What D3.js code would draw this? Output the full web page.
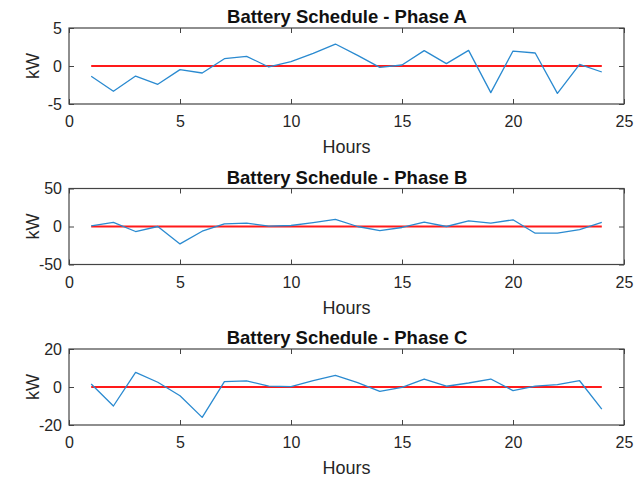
<!DOCTYPE html>
<html>
<head>
<meta charset="utf-8">
<script src="https://cdn.jsdelivr.net/npm/d3@7"></script>
<style>
  html, body { margin: 0; padding: 0; background: #fff; }
  svg { display: block; font-family: "Liberation Sans", Arial, sans-serif; }
</style>
</head>
<body>
<svg id="chart" width="644" height="477"></svg>
<script>
// Hourly battery schedule (kW) for each phase
const hours = d3.range(1, 25);
const phaseA = [-1.36, -3.33, -1.32, -2.41, -0.48, -0.92, 0.96, 1.27, -0.13, 0.57, 1.67, 2.89,
                1.40, -0.18, 0.13, 2.02, 0.31, 2.06, -3.5, 1.97, 1.71, -3.6, 0.22, -0.79];
const phaseB = [0.9, 5.3, -6.6, 0, -22.9, -6.2, 3.5, 4.4, 0.4, 1.3, 5.0, 9.3,
                0, -5.3, -1.3, 5.7, 0, 7.5, 4.4, 8.8, -8.8, -8.8, -4, 5.3];
const phaseC = [1.6, -10, 7.7, 2.5, -4.6, -16, 2.8, 3.2, 0.5, 0.2, 3.3, 6.1,
                2.3, -2.3, -0.2, 4.2, 0.4, 2.1, 4.2, -1.9, 0.5, 1.2, 3.3, -11.6];
const reference = hours.map(() => 0);

const titles = ["Battery Schedule - Phase A", "Battery Schedule - Phase B", "Battery Schedule - Phase C"];
const yLimits = [5, 50, 20];
const xTicks = [0, 5, 10, 15, 20, 25];
const xLabel = "Hours";
const yLabel = "kW";

const panels = [
  { title: titles[0], values: phaseA, lim: yLimits[0], top: 28 },
  { title: titles[1], values: phaseB, lim: yLimits[1], top: 188.5 },
  { title: titles[2], values: phaseC, lim: yLimits[2], top: 349 }
];

const svg = d3.select("#chart");
const left = 69, right = 624, panelH = 76;
const axisColor = "#444";
const textColor = "#262626";
const tickLen = 5;
const plainNumber = d => String(d);   // ASCII hyphen for negatives

const x = d3.scaleLinear().domain([0, 25]).range([left, right]);

panels.forEach(p => {
  const y = d3.scaleLinear().domain([-p.lim, p.lim]).range([p.top + panelH, p.top]);
  const yTicks = [-p.lim, 0, p.lim];
  const g = svg.append("g");

  // bottom axis with labels, inward ticks
  g.append("g")
    .attr("transform", `translate(0,${p.top + panelH})`)
    .call(d3.axisBottom(x).tickValues(xTicks).tickFormat(plainNumber)
      .tickSizeInner(-tickLen).tickSizeOuter(0).tickPadding(12))
    .call(a => a.select(".domain").remove())
    .call(a => a.selectAll("line").attr("stroke", axisColor))
    .call(a => a.selectAll("text").attr("font-size", 16).attr("fill", textColor).attr("font-family", null));

  // top mirror ticks
  g.append("g")
    .attr("transform", `translate(0,${p.top})`)
    .call(d3.axisTop(x).tickValues(xTicks).tickSizeInner(-tickLen).tickSizeOuter(0).tickFormat(""))
    .call(a => a.select(".domain").remove())
    .call(a => a.selectAll("line").attr("stroke", axisColor));

  // left axis with labels
  g.append("g")
    .attr("transform", `translate(${left},0)`)
    .call(d3.axisLeft(y).tickValues(yTicks).tickFormat(plainNumber)
      .tickSizeInner(-tickLen).tickSizeOuter(0).tickPadding(7))
    .call(a => a.select(".domain").remove())
    .call(a => a.selectAll("line").attr("stroke", axisColor))
    .call(a => a.selectAll("text").attr("font-size", 16).attr("fill", textColor).attr("font-family", null));

  // right mirror ticks
  g.append("g")
    .attr("transform", `translate(${right},0)`)
    .call(d3.axisRight(y).tickValues(yTicks).tickSizeInner(-tickLen).tickSizeOuter(0).tickFormat(""))
    .call(a => a.select(".domain").remove())
    .call(a => a.selectAll("line").attr("stroke", axisColor));

  // zero reference line
  g.append("path")
    .datum(reference)
    .attr("fill", "none")
    .attr("stroke", "#ff1a1a")
    .attr("stroke-width", 2)
    .attr("d", d3.line().x((d, i) => x(hours[i])).y(d => y(d)));

  // schedule line
  g.append("path")
    .datum(p.values)
    .attr("fill", "none")
    .attr("stroke", "#2a8ad0")
    .attr("stroke-width", 1.3)
    .attr("stroke-linejoin", "round")
    .attr("d", d3.line().x((d, i) => x(hours[i])).y(d => y(d)));

  // axes box
  g.append("rect")
    .attr("x", left).attr("y", p.top)
    .attr("width", right - left).attr("height", panelH)
    .attr("fill", "none").attr("stroke", axisColor).attr("stroke-width", 1.2);

  // title
  g.append("text")
    .attr("x", (left + right) / 2 + 0.5).attr("y", p.top - 4.7)
    .attr("text-anchor", "middle")
    .attr("font-size", 18.5).attr("font-weight", "bold").attr("fill", "#111")
    .text(p.title);

  // x label
  g.append("text")
    .attr("x", (left + right) / 2).attr("y", p.top + panelH + 49)
    .attr("text-anchor", "middle")
    .attr("font-size", 18).attr("fill", textColor)
    .text(xLabel);

  // y label
  g.append("text")
    .attr("transform", `translate(39,${p.top + panelH / 2}) rotate(-90)`)
    .attr("text-anchor", "middle")
    .attr("font-size", 18).attr("fill", textColor)
    .text(yLabel);
});
</script>
</body>
</html>
